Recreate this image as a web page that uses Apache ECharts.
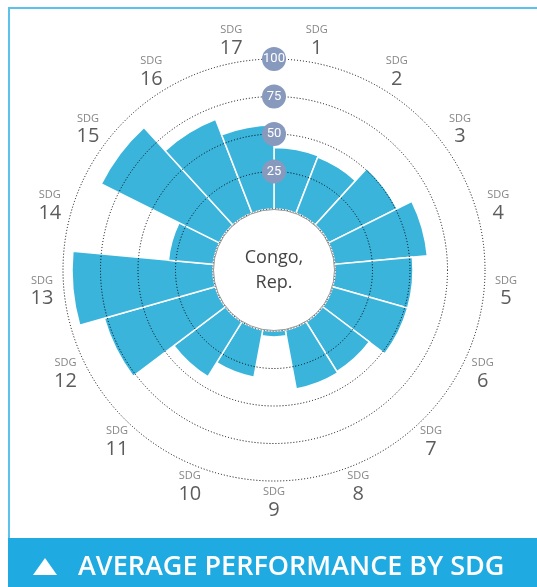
<!DOCTYPE html>
<html>
<head>
<meta charset="utf-8">
<script src="https://cdn.jsdelivr.net/npm/echarts@6/dist/echarts.min.js"></script>
<style>
  html, body { margin: 0; padding: 0; background: #fff; }
  #chart { width: 537px; height: 587px; }
</style>
</head>
<body>
<div id="chart"></div>
<script>
// SDG categories, clockwise from top
var sdgNumbers = ['1', '2', '3', '4', '5', '6', '7', '8', '9', '10', '11', '12', '13', '14', '15', '16', '17'];
// average performance per SDG (0-100)
var sdgScores = [41, 40, 51, 62, 52, 52, 39, 40, 4, 32, 43, 77, 94, 30, 88, 67, 56];
var ringTicks = [0, 25, 50, 75, 100];
var countryName = 'Congo,\nRep.';
var bannerTitle = 'AVERAGE PERFORMANCE BY SDG';

var cx = 274, cy = 270;
// radius (in axis units) where the "SDG n" labels sit, outside the 100 ring
var labelRadius = 114.7;

var myChart = echarts.init(document.getElementById('chart'));

var option = {
  animation: false,
  polar: {
    center: [cx, cy],
    radius: [61, 211]
  },
  angleAxis: {
    type: 'category',
    data: sdgNumbers,
    startAngle: 90,
    clockwise: true,
    boundaryGap: true,
    axisLine: { show: false },
    axisTick: { show: false },
    splitLine: { show: false },
    axisLabel: { show: false }
  },
  radiusAxis: {
    type: 'value',
    min: ringTicks[0],
    max: ringTicks[ringTicks.length - 1],
    interval: 25,
    z: 10,
    axisLine: { show: false },
    axisTick: { show: false },
    splitLine: {
      show: true,
      lineStyle: { color: '#000', width: 1, type: [1, 2] }
    },
    axisLabel: {
      showMinLabel: false,
      margin: 0,
      align: 'center',
      verticalAlign: 'middle',
      fontFamily: 'Roboto',
      fontSize: 13,
      color: '#fff',
      backgroundColor: '#8799bd',
      width: 24,
      height: 24,
      lineHeight: 24,
      borderRadius: 12
    }
  },
  series: [
    {
      type: 'bar',
      coordinateSystem: 'polar',
      data: sdgScores,
      barCategoryGap: '0%',
      silent: true,
      itemStyle: {
        color: '#3bb4dc',
        borderColor: '#fff',
        borderWidth: 1.5
      }
    },
    {
      // category labels around the rings
      type: 'scatter',
      coordinateSystem: 'polar',
      clip: false,
      silent: true,
      symbolSize: 0,
      data: sdgNumbers.map(function (n) { return [labelRadius, n]; }),
      label: {
        show: true,
        position: 'inside',
        formatter: function (p) {
          return '{s|SDG}\n{n|' + p.value[1] + '}';
        },
        rich: {
          s: { fontFamily: 'Open Sans', fontSize: 11, color: '#666', align: 'center', lineHeight: 14 },
          n: { fontFamily: 'Open Sans', fontSize: 20, color: '#333', align: 'center', lineHeight: 22 }
        }
      }
    }
  ],
  graphic: [
    {
      type: 'rect',
      shape: { x: 9, y: 8, width: 560, height: 560 },
      style: { fill: 'none', stroke: '#5cc1eb', lineWidth: 2 },
      z: 1
    },
    {
      type: 'rect',
      shape: { x: 8, y: 538, width: 540, height: 60 },
      style: { fill: '#1faae1' },
      z: 2
    },
    {
      type: 'polygon',
      shape: { points: [[45, 558], [33, 575], [57, 575]] },
      style: { fill: '#fff' },
      z: 3
    },
    {
      type: 'text',
      x: 78, y: 567,
      style: {
        text: bannerTitle,
        fill: '#fff',
        font: '600 27px "Open Sans"',
        textVerticalAlign: 'middle'
      },
      z: 3
    },
    {
      type: 'circle',
      shape: { cx: cx, cy: cy, r: 60.5 },
      style: { fill: '#fff', stroke: '#999', lineWidth: 1 },
      z: 20
    },
    {
      type: 'text',
      x: cx, y: cy,
      style: {
        text: countryName,
        fill: '#444',
        font: '18px "Open Sans"',
        textAlign: 'center',
        textVerticalAlign: 'middle',
        lineHeight: 25
      },
      z: 21
    }
  ]
};

myChart.setOption(option, true);
</script>
</body>
</html>
